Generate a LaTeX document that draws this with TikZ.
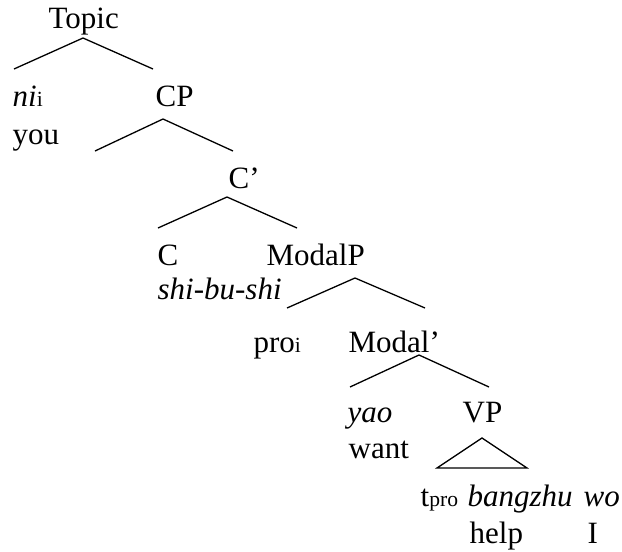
\documentclass[tikz,border=0pt]{standalone}
\usepackage{fontspec}
\setmainfont{Liberation Serif}
\usepackage{tikz}
\def\sub#1{{\fontsize{10.8}{12}\selectfont #1}}

\begin{document}
\begin{tikzpicture}[x=0.5pt,y=-0.5pt,line width=0.65pt,
		word/.style={anchor=base west,inner sep=0pt,font=\fontsize{15.5}{18}\selectfont}]
				\useasboundingbox (0,0) rectangle (622,552);
				
				\node[word] (topic) at (48,28) {Topic};
				\node[word] (ni) at (12,106) {\textit{ni}\sub{i}};
				\node[word] (you) at (12,144) {you};
				\node[word] (cp) at (155,106) {CP};
				\node[word] (cbar) at (228,188) {C’};
				\node[word] (c) at (157,265) {C};
				\node[word] (shibushi) at (157,299) {\textit{shi-bu-shi}};
				\node[word] (modalp) at (266,265) {ModalP};
				\node[word] (pro) at (253,352) {pro\sub{i}};
				\node[word] (modalbar) at (348,352) {Modal’};
				\node[word] (yao) at (347,422) {\textit{yao}};
				\node[word] (want) at (348,458) {want};
				\node[word] (vp) at (462,422) {VP};
				\node[word] (tpro) at (420,506) {t\sub{pro}};
				\node[word] (bangzhu) at (467,506) {\textit{bangzhu}};
				\node[word] (wo) at (583,506) {\textit{wo}};
				\node[word] (help) at (469,543) {help};
				\node[word] (I) at (587,543) {I};
				
				% Topic
				\coordinate (topic-a) at (83,38);
				\coordinate (topic-l) at (14,69);
				\coordinate (topic-r) at (153,69);
				\draw (topic-l) -- (topic-a) -- (topic-r);
				
				% CP
				\coordinate (cp-a) at (163,119);
				\coordinate (cp-l) at (95,151);
				\coordinate (cp-r) at (233,151);
				\draw (cp-l) -- (cp-a) -- (cp-r);
				
				% C'
				\coordinate (cbar-a) at (227,197);
				\coordinate (cbar-l) at (158,228);
				\coordinate (cbar-r) at (297,228);
				\draw (cbar-l) -- (cbar-a) -- (cbar-r);
				
				% ModalP
				\coordinate (modalp-a) at (355,278);
				\coordinate (modalp-l) at (287,308);
				\coordinate (modalp-r) at (425,308);
				\draw (modalp-l) -- (modalp-a) -- (modalp-r);
				
				% Modal'
				\coordinate (modalbar-a) at (419,355);
				\coordinate (modalbar-l) at (350,387);
				\coordinate (modalbar-r) at (489,387);
				\draw (modalbar-l) -- (modalbar-a) -- (modalbar-r);
				
				% VP triangle
				\coordinate (vp-a) at (482,438);
				\coordinate (vp-l) at (437,468);
				\coordinate (vp-r) at (527,468);
				\draw (vp-l) -- (vp-a) -- (vp-r) -- cycle;
			\end{tikzpicture}
\end{document}
